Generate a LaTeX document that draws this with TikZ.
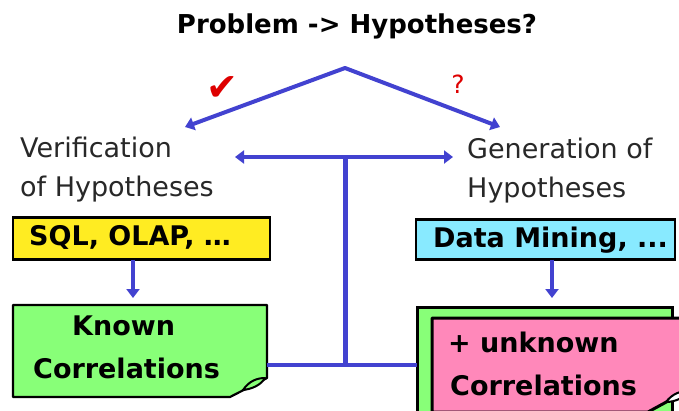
\documentclass[tikz,border=0pt]{standalone}
\usepackage{fontspec}
\setmainfont{DejaVu Sans}
\usetikzlibrary{arrows.meta}
\definecolor{linkblue}{RGB}{66,66,208}
\definecolor{sqlyellow}{RGB}{255,236,34}
\definecolor{dmcyan}{RGB}{136,234,255}
\definecolor{knowngreen}{RGB}{136,255,120}
\definecolor{unkpink}{RGB}{255,136,186}
\definecolor{markred}{RGB}{222,0,0}
\definecolor{labelgray}{RGB}{40,40,40}
\tikzset{
  link/.style={draw=linkblue, line width=4pt},
  tip/.tip={Triangle[length=9pt,width=13pt]},
  boxline/.style={draw=black, line width=2.2pt},
  label/.style={font=\fontsize{27}{30}\selectfont, text=labelgray, anchor=base west, inner sep=0pt},
  boxtext/.style={font=\fontsize{27}{30}\selectfont\bfseries, text=black, anchor=base west, inner sep=0pt},
  frame/.style={inner sep=0pt, outer sep=0pt}
}
\begin{document}
\begin{tikzpicture}[x=1pt,y=-1pt]
\useasboundingbox (0,0) rectangle (679,410);
\clip (0,0) rectangle (679,410);
\fill[white] (0,0) rectangle (679,410);

% heading
\node[font=\fontsize{26}{30}\selectfont\bfseries, text=black, inner sep=0pt, anchor=base] (title) at (357,33) {Problem -> Hypotheses?};

% the two branches
\node[label] (ver1) at (20,157) {Verification};
\node[label] (ver2) at (20,196) {of Hypotheses};
\node[label] (gen1) at (467,158) {Generation of};
\node[label] (gen2) at (467,197) {Hypotheses};

\node[font=\fontsize{38}{38}\selectfont, text=markred, inner sep=0pt] (check) at (222,89) {✔};
\node[font=\fontsize{25}{26}\selectfont, text=markred, inner sep=0pt] (quest) at (458,84) {?};

% tool boxes
\node[frame, boxline, fill=sqlyellow, minimum width=257pt, minimum height=42pt] (sql) at (141.5,238.5) {};
\node[boxtext] (sqltext) at (29,245) {SQL, OLAP, …};
\node[frame, boxline, fill=dmcyan, minimum width=259pt, minimum height=40pt] (dm) at (545.5,239.5) {};
\node[boxtext] (dmtext) at (433,247) {Data Mining, ...};

% known correlations (sheet with a curled corner)
\node[frame, minimum width=254pt, minimum height=92pt] (known) at (140,351) {};
\filldraw[boxline, fill=knowngreen, line join=round]
  (13,305) -- (267,305) -- (267,378) -- (230,397) -- (13,397) -- cycle;
\filldraw[draw=black, line width=2pt, fill=knowngreen, line join=round]
  (243,390) .. controls (249,381) and (257,378) .. (265,378)
  .. controls (261,385) and (252,389) .. cycle;
\node[boxtext] (knowntext1) at (72,335) {Known};
\node[boxtext] (knowntext2) at (33,378) {Correlations};

% known + unknown correlations (stacked sheets)
\node[frame, minimum width=255pt, minimum height=110pt] (unk) at (544.5,362) {};
\filldraw[draw=black, line width=3pt, fill=knowngreen] (417,307) rectangle (672,430);
\filldraw[draw=black, line width=3pt, fill=unkpink, line join=round]
  (432,318) -- (692,318) -- (692,388) -- (648,412) -- (432,412) -- cycle;
\filldraw[draw=black, line width=2pt, fill=white, line join=round]
  (666,402) .. controls (672,394) and (680,391) .. (690,390)
  .. controls (684,398) and (675,402) .. cycle;
\node[boxtext] (unktext1) at (448,352) {+ unknown};
\node[boxtext] (unktext2) at (450,395) {Correlations};

% connectors
\coordinate (apex) at (345,68);
\coordinate (verend) at (185,127);
\coordinate (genend) at (500,127);
\draw[link, tip-tip, line join=round] (verend) -- (apex) -- (genend);

\coordinate (hub) at (345,157);
\coordinate (verin) at (235,157);
\coordinate (genin) at (453,157);
\coordinate (base) at (345,365);
\draw[link, tip-tip] (verin) -- (genin);
\draw[link, line width=5pt] (hub) -- (base);
\draw[link] (known.east |- base) -- (unk.west |- base);

\draw[link, line width=3.5pt, -tip, shorten >=7pt] (sql.south -| 133,0) -- (known.north -| 133,0);
\draw[link, line width=3.5pt, -tip] (dm.south -| 552,0) -- (552,298);
\end{tikzpicture}
\end{document}
